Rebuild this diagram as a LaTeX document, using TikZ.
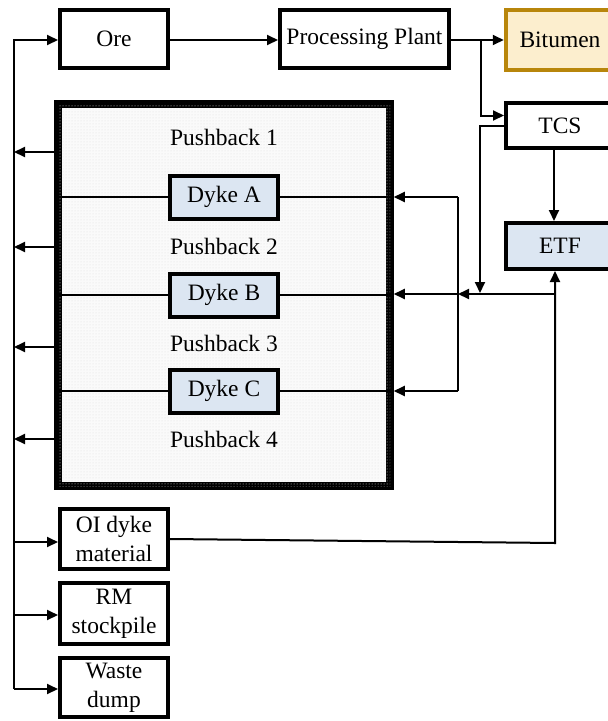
\documentclass[tikz,border=0pt]{standalone}
\usepackage{fontspec}
\setmainfont{Liberation Serif}
\usetikzlibrary{positioning,arrows.meta,patterns}
\definecolor{dykeblue}{RGB}{220,230,242}
\definecolor{bitfill}{RGB}{252,238,206}
\definecolor{bitgold}{RGB}{184,134,11}

\begin{document}
\begin{tikzpicture}[x=1pt,y=-1pt,
  flow/.style={line width=2pt,-{Triangle[length=11pt,width=10pt]}},
  link/.style={line width=2pt},
  box/.style={draw,line width=4pt,minimum width=108pt,minimum height=58pt,align=center,inner sep=1pt,font=\fontsize{23.5}{29}\selectfont},
  dyke/.style={box,fill=dykeblue,minimum height=43pt},
  lbl/.style={font=\fontsize{23.5}{29}\selectfont}]
\useasboundingbox (0,0) rectangle (608,721);
% top row
\node[box] (ore) at (114,39) {Ore};
\node[box,minimum width=169pt] (plant) at (364.5,38.5) {Processing Plant};
\node[box,draw=bitgold,fill=bitfill,line width=4.5pt,minimum height=60pt] (bitumen) at (560,40) {Bitumen};
\node[box,minimum height=45pt] (tcs) at (560,125.5) {TCS};
\node[box,fill=dykeblue,minimum height=46pt] (etf) at (560,246) {ETF};
% pit with pushbacks
\node[draw,line width=7.5pt,fill=black!2,postaction={pattern=dots,pattern color=black!13},minimum width=332pt,minimum height=382pt] (pit) at (224,295) {};
\node[lbl] (pb1) at (224,137) {Pushback 1};
\node[lbl] (pb2) at (224,246) {Pushback 2};
\node[lbl] (pb3) at (224,343) {Pushback 3};
\node[lbl] (pb4) at (224,439) {Pushback 4};
\node[dyke] (dykeA) at (224,197) {Dyke A};
\node[dyke] (dykeB) at (224,295) {Dyke B};
\node[dyke] (dykeC) at (224,391) {Dyke C};
\foreach \d in {dykeA,dykeB,dykeC} {
  \draw[link] (pit.west |- \d) -- (\d.west);
  \draw[link] (\d.east) -- (pit.east |- \d);
}
% material boxes
\node[box,minimum height=60pt] (oi) at (114,539) {OI dyke\\material};
\node[box,minimum height=61pt] (rm) at (114,613.5) {RM\\stockpile};
\node[box,minimum height=59pt] (waste) at (114,687.5) {Waste\\dump};
% left spine
\coordinate (spinetop) at (14,40);
\coordinate (spinebot) at (14,689);
\draw[flow] (spinebot) -- (spinetop) -- (spinetop -| ore.west);
\foreach \y in {152,247,347,439}
  \draw[flow] (pit.west |- 0,\y) -- (spinetop |- 0,\y);
\draw[flow] (spinetop |- 0,542) -- (oi.west |- 0,542);
\draw[flow] (spinetop |- 0,615) -- (rm.west |- 0,615);
\draw[flow] (spinebot) -- (waste.west |- spinebot);
% plant outputs
\coordinate (split) at (481,40);
\draw[flow] (ore.east |- split) -- (plant.west |- split);
\draw[flow] (plant.east |- split) -- (bitumen.west |- split);
\draw[flow] (split) |- ([yshift=10pt]tcs.west);
\coordinate (drop) at (480,293);
\draw[flow] (tcs.west) -| (drop);
\draw[flow] ([xshift=-6pt]tcs.south) -- ([xshift=-6pt]etf.north);
% water return
\coordinate (corner) at (555,543);
\coordinate (tee) at (555,294);
\coordinate (hub) at (458,294);
\draw[flow] (oi.east) -- (corner) -- (corner |- etf.south);
\draw[flow] (tee) -- (hub);
\draw[flow] (hub) -- (pit.east |- hub);
\draw[link] (hub |- dykeA) -- (hub |- dykeC);
\draw[flow] (hub |- dykeA) -- (pit.east |- dykeA);
\draw[flow] (hub |- dykeC) -- (pit.east |- dykeC);
\end{tikzpicture}
\end{document}
